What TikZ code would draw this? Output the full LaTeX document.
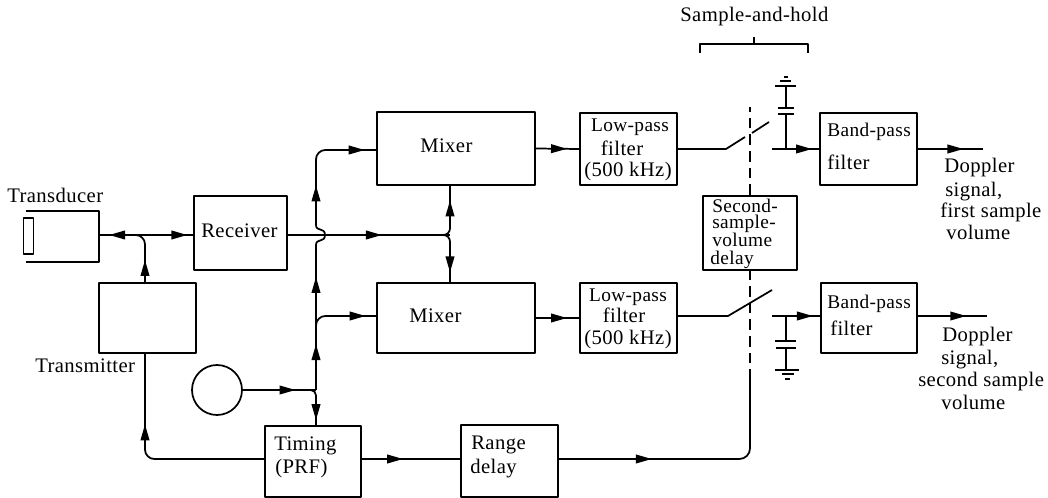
\documentclass[tikz,border=0pt]{standalone}
\usepackage{fontspec}
\setmainfont[LetterSpace=2]{Liberation Serif}
\usetikzlibrary{arrows.meta,decorations.markings}
\def\px{0.75pt}
\tikzset{
  x=0.75pt,y=-0.75pt,
  blk/.style={draw=black,line width=1.3pt,rectangle,inner sep=0pt,line join=round},
  wire/.style={draw=black,line width=1.3pt},
  thin wire/.style={draw=black,line width=1pt},
  txt/.style={anchor=base west,inner sep=0pt,font=\fontsize{15.5}{17}\selectfont},
  ctr/.style={anchor=base,inner sep=0pt,font=\fontsize{15.5}{17}\selectfont},
  small/.style={font=\fontsize{14.5}{15}\selectfont},
  arrowat/.style={postaction={decorate},decoration={markings,mark=at position #1 with {\arrow{Triangle[length=12pt,width=6.5pt]}}}},
  turn/.style={rounded corners=7pt},
  dashwire/.style={draw=black,line width=1.3pt,dash pattern=on 8pt off 4.5pt},
}
\begin{document}
\begin{tikzpicture}
\useasboundingbox (0,0) rectangle (1048,498);
% blocks
\node[blk,minimum width=93*\px,minimum height=74*\px] (rx) at (240.5,233) {};
\node[blk,minimum width=97*\px,minimum height=70*\px] (tx) at (147.5,318) {};
\node[blk,minimum width=158*\px,minimum height=73*\px] (mix1) at (456,148.5) {};
\node[blk,minimum width=158*\px,minimum height=70*\px] (mix2) at (456,318) {};
\node[blk,minimum width=97*\px,minimum height=72*\px] (lpf1) at (628.5,149) {};
\node[blk,minimum width=97*\px,minimum height=70*\px] (lpf2) at (628.5,318) {};
\node[blk,minimum width=97*\px,minimum height=72*\px] (bpf1) at (868.5,149) {};
\node[blk,minimum width=96*\px,minimum height=70*\px] (bpf2) at (869,318) {};
\node[blk,minimum width=94*\px,minimum height=74*\px] (ssv) at (750,233) {};
\node[blk,minimum width=96*\px,minimum height=71*\px] (tim) at (313,461.5) {};
\node[blk,minimum width=97*\px,minimum height=72*\px] (rng) at (509.5,461) {};
\node[draw=black,line width=1.3pt,circle,inner sep=0pt,minimum size=50*\px] (osc) at (217,390) {};
% transducer
\coordinate (tdtop) at (26,211);
\coordinate (tdtr) at (99,211);
\coordinate (tdbr) at (99,262);
\coordinate (tdbot) at (26,262);
\coordinate (tdport) at (99,235);
\draw[wire,line join=round] (tdtop) -- (tdtr) -- (tdbr) -- (tdbot);
\node[blk,minimum width=10*\px,minimum height=36*\px] (elem) at (28.5,236) {};
% junctions
\coordinate (j1) at (145,235);
\coordinate (j1r) at (136,235);
\coordinate (j2) at (450,235);
\coordinate (j2l) at (442,235);
\coordinate (j3) at (316,390);
\coordinate (j3l) at (308,390);
\coordinate (brin) at (316,245);
\coordinate (brtip) at (325,235);
\coordinate (brout) at (316,225);
\coordinate (m1corner) at (316,150);
\coordinate (m1in) at (377,150);
\coordinate (m2corner) at (316,316);
\coordinate (m2below) at (316,330);
\coordinate (m2in) at (377,316);
\coordinate (timin) at (316,426);
% transducer / transmitter / receiver
\draw[wire,arrowat=0.78] (j1) -- (tdport);
\draw[wire,arrowat=0.88] (j1) -- (rx.west |- j1);
\draw[wire,arrowat=0.42,turn] (tx.north -| j1) -- (j1) -- (j1r);
% receiver to mixers
\draw[wire,arrowat=0.58] (rx.east |- j2) -- (j2);
\draw[wire,arrowat=0.72,rounded corners=5pt] (j2l) -- (j2) -- (450,185);
\draw[wire,arrowat=0.8,rounded corners=5pt] (j2l) -- (j2) -- (450,283);
% oscillator lines
\draw[wire,arrowat=0.72] (osc.east) -- (j3);
\draw[wire,arrowat=0.62] (j3) -- (m2corner);
\draw[wire,arrowat=0.84,turn] (m2below) -- (m2corner) -- (m2in);
\draw[wire,arrowat=0.55] (m2corner) -- (brin);
\draw[wire] (brin) .. controls (316,238) and (325,243) .. (brtip) .. controls (325,227) and (316,232) .. (brout);
\draw[wire,arrowat=0.3,turn] (brout) -- (m1corner) -- (m1in);
\draw[wire,arrowat=0.7] (m1corner) ++(20,0) -- (m1in);
\draw[wire,arrowat=0.86,rounded corners=4pt] (j3l) -- (j3) -- (timin);
% timing
\coordinate (timl) at (145,459);
\coordinate (rngr) at (750,459);
\draw[wire,arrowat=0.68,turn] (tim.west |- timl) -- (timl) -- (tx.south -| j1);
\draw[wire,arrowat=0.42] (tim.east |- timl) -- (rng.west |- timl);
% range delay to sample switches
\coordinate (dashstart) at (750,380);
\coordinate (dashend) at (750,107);
\draw[wire,arrowat=0.35,rounded corners=8pt] (rng.east |- rngr) -- (rngr) -- (dashstart);
\draw[dashwire] (dashstart) -- (ssv.south);
\draw[dashwire] (ssv.north) -- (dashend);
% first channel
\draw[wire,arrowat=0.72] (mix1.east) -- (lpf1.west);
\coordinate (s1a) at (726,149);
\coordinate (s1b) at (745,137);
\coordinate (s1c) at (752,133);
\coordinate (s1d) at (769,122);
\coordinate (s1e) at (772,149);
\draw[wire,line join=round] (lpf1.east) -- (s1a) -- (s1b);
\draw[wire] (s1c) -- (s1d);
\draw[wire,arrowat=0.85] (s1e) -- (bpf1.west);
\coordinate (c1w) at (786,149);
\coordinate (c1a) at (786,114);
\coordinate (c1b) at (786,108);
\coordinate (c1g) at (786,86);
\draw[wire] (c1w) -- (c1a);
\draw[wire] (778,114) -- (794,114);
\draw[wire] (778,108) -- (794,108);
\draw[wire] (c1b) -- (c1g);
\draw[wire] (775,86) -- (796,86);
\draw[thin wire] (780,81) -- (791,81);
\draw[thin wire] (784,77) -- (788,77);
\coordinate (out1) at (983,149);
\draw[wire,arrowat=0.7] (bpf1.east) -- (out1);
% second channel
\draw[wire,arrowat=0.72] (mix2.east) -- (lpf2.west);
\coordinate (s2a) at (728,316);
\coordinate (s2d) at (772,290);
\coordinate (s2e) at (772,316);
\draw[wire,line join=round] (lpf2.east |- s2a) -- (s2a) -- (s2d);
\draw[wire,arrowat=0.85] (s2e) -- (bpf2.west |- s2e);
\coordinate (c2w) at (786,316);
\coordinate (c2a) at (786,341);
\coordinate (c2b) at (786,348);
\coordinate (c2g) at (786,370);
\draw[wire] (c2w) -- (c2a);
\draw[wire] (775,341) -- (796,341);
\draw[wire] (776,348) -- (796,348);
\draw[wire] (c2b) -- (c2g);
\draw[wire] (775,370) -- (799,370);
\draw[thin wire] (782,374) -- (794,374);
\draw[thin wire] (785,379) -- (790,379);
\coordinate (out2) at (987,316);
\draw[wire,arrowat=0.7] (bpf2.east |- out2) -- (out2);
% bracket
\coordinate (brl) at (700,53);
\coordinate (brr) at (808,53);
\coordinate (brm) at (754,44);
\coordinate (brt) at (754,37);
\draw[wire,line join=round] (brl) -- (700,44) -- (808,44) -- (brr);
\draw[wire] (brm) -- (brt);
% labels
\node[txt] (l1) at (680,22) {Sample-and-hold};
\node[txt] (l2) at (7,203) {Transducer};
\node[txt] (l3) at (35,373) {Transmitter};
\node[txt] (l4) at (201,238) {Receiver};
\node[txt] (l5) at (420,153) {Mixer};
\node[txt] (l6) at (409,323) {Mixer};
\node[ctr,small] (l7) at (630,132) {Low-pass};
\node[ctr] (l8) at (622,156) {filter};
\node[ctr] (l9) at (628,177) {(500 kHz)};
\node[ctr,small] (l10) at (628,302) {Low-pass};
\node[ctr] (l11) at (624,323) {filter};
\node[ctr] (l12) at (628,345) {(500 kHz)};
\node[txt,small] (l13) at (827,137) {Band-pass};
\node[txt] (l14) at (827,170) {filter};
\node[txt,small] (l15) at (827,309) {Band-pass};
\node[txt] (l16) at (830,336) {filter};
\node[txt,small] (l17) at (712,213) {Second-};
\node[txt,small] (l18) at (712,229) {sample-};
\node[txt,small] (l19) at (712,247) {volume};
\node[txt,small] (l20) at (710,265) {delay};
\node[txt] (l21) at (274,450) {Timing};
\node[txt] (l22) at (275,473) {(PRF)};
\node[txt] (l23) at (471,449) {Range};
\node[txt] (l24) at (470,473) {delay};
\node[txt] (l25) at (944,173) {Doppler};
\node[txt] (l26) at (945,197) {signal,};
\node[txt] (l27) at (940,218) {first sample};
\node[txt] (l28) at (946,240) {volume};
\node[txt] (l29) at (942,342) {Doppler};
\node[txt] (l30) at (941,365) {signal,};
\node[txt] (l31) at (918,387) {second sample};
\node[txt] (l32) at (941,409) {volume};
\end{tikzpicture}
\end{document}
